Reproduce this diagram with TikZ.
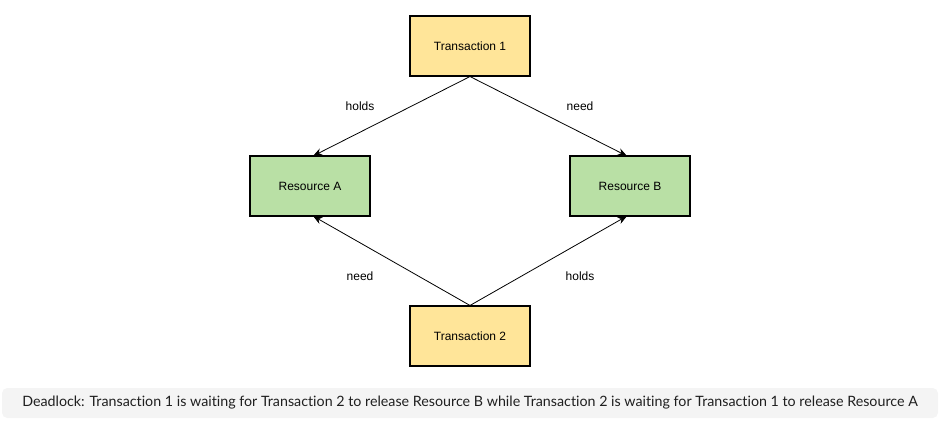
\documentclass[tikz,border=0pt]{standalone}
\usepackage{fontspec}
\setmainfont{Liberation Sans}
\newfontfamily\capfont[Ligatures=NoCommon]{Lato}
\usetikzlibrary{arrows.meta}
\definecolor{txyellow}{HTML}{FFE599}
\definecolor{resgreen}{HTML}{B9E0A5}
\definecolor{capbg}{HTML}{F4F4F4}
\definecolor{captxt}{HTML}{1F1F1F}
\tikzset{
  box/.style={draw=black, line width=0.8pt, minimum width=120*0.75pt, minimum height=60*0.75pt, inner sep=0pt, font=\fontsize{9}{11}\selectfont},
  txbox/.style={box, fill=txyellow},
  resbox/.style={box, fill=resgreen},
  conn/.style={draw=black, line width=0.6pt, -{Stealth[length=7pt,width=5.5pt]}},
  lbl/.style={font=\fontsize{9}{11}\selectfont, text=black},
}
\begin{document}
\begin{tikzpicture}[x=0.75pt,y=-0.75pt]
\useasboundingbox (0,0) rectangle (944,427);
\node[txbox] (t1) at (470,46) {Transaction 1};
\node[resbox] (ra) at (310,186) {Resource A};
\node[resbox] (rb) at (630,186) {Resource B};
\node[txbox] (t2) at (470,336) {Transaction 2};
\coordinate (raT) at (313,156);
\coordinate (rbT) at (627,156);
\coordinate (raB) at (313,216);
\coordinate (rbB) at (627,216);
\draw[conn] (t1.south) -- (raT);
\draw[conn] (t1.south) -- (rbT);
\draw[conn] (t2.north) -- (raB);
\draw[conn] (t2.north) -- (rbB);
\node[lbl] (l1) at (360,106) {holds};
\node[lbl] (l2) at (580,106) {need};
\node[lbl] (l3) at (360,276) {need};
\node[lbl] (l4) at (580,276) {holds};
\node[fill=capbg, rounded corners=4pt, minimum width=936*0.75pt, minimum height=30*0.75pt, inner sep=0pt, text=captxt, font=\capfont\fontsize{10.7}{12}\selectfont] (cap) at (470,403) {Deadlock: Transaction 1 is waiting for Transaction 2 to release Resource B while Transaction 2 is waiting for Transaction 1 to release Resource A};
\end{tikzpicture}
\end{document}
